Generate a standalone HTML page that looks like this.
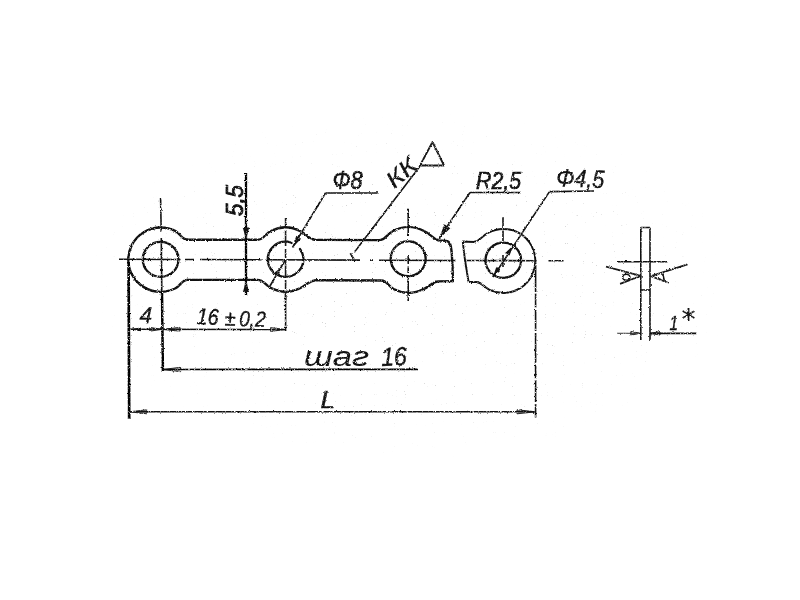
<!DOCTYPE html>
<html lang="ru">
<head>
<meta charset="utf-8">
<title>Чертёж</title>
<style>
html,body{margin:0;padding:0;background:#fff;}
body{width:800px;height:600px;overflow:hidden;}
svg{display:block;}
.o{fill:none;stroke:#111;stroke-width:2.35;stroke-linecap:round;stroke-linejoin:round;}
.t{fill:none;stroke:#111;stroke-width:1.6;}
.t2{fill:none;stroke:#1a1a1a;stroke-width:1.8;stroke-linejoin:round;}
.c{fill:none;stroke:#1a1a1a;stroke-width:1.6;}
.ar{fill:#111;stroke:none;}
.arh{fill:#111;fill-opacity:0.35;stroke:#111;stroke-width:0.9;stroke-linejoin:round;}
text{font-family:"Liberation Sans",sans-serif;font-style:italic;fill:#111;stroke:#111;stroke-width:0.4;}
</style>
</head>
<body>
<svg width="800" height="600" viewBox="0 0 800 600">
<defs>
<filter id="rough" x="0" y="0" width="800" height="600" filterUnits="userSpaceOnUse" color-interpolation-filters="sRGB">
<feTurbulence type="fractalNoise" baseFrequency="0.55" numOctaves="2" seed="7" result="n"/>
<feDisplacementMap in="SourceGraphic" in2="n" scale="2.4" xChannelSelector="R" yChannelSelector="G" result="d"/>
<feTurbulence type="fractalNoise" baseFrequency="0.8" numOctaves="3" seed="23" result="g"/>
<feColorMatrix in="g" type="matrix" values="0 0 0 0 0  0 0 0 0 0  0 0 0 0 0  0 0 4 0 -0.62" result="m"/>
<feComposite in="d" in2="m" operator="in"/>
</filter>
<filter id="roughT" x="0" y="0" width="800" height="600" filterUnits="userSpaceOnUse" color-interpolation-filters="sRGB">
<feTurbulence type="fractalNoise" baseFrequency="0.5" numOctaves="2" seed="11" result="n"/>
<feDisplacementMap in="SourceGraphic" in2="n" scale="2.2" xChannelSelector="R" yChannelSelector="G" result="d"/>
<feTurbulence type="fractalNoise" baseFrequency="0.8" numOctaves="3" seed="5" result="g"/>
<feColorMatrix in="g" type="matrix" values="0 0 0 0 0  0 0 0 0 0  0 0 0 0 0  0 0 4 0 -0.5" result="m"/>
<feComposite in="d" in2="m" operator="in"/>
</filter>
<filter id="speck" x="0" y="0" width="800" height="600" filterUnits="userSpaceOnUse" color-interpolation-filters="sRGB">
<feTurbulence type="fractalNoise" baseFrequency="0.9" numOctaves="2" seed="41" result="g"/>
<feColorMatrix in="g" type="matrix" values="0 0 0 0 0.35  0 0 0 0 0.35  0 0 0 0 0.35  0 14 0 0 -10.9"/>
<feComposite in2="SourceGraphic" operator="in"/>
</filter>
<radialGradient id="sg" cx="0.5" cy="0.5" r="0.5">
<stop offset="0.55" stop-color="#000" stop-opacity="1"/>
<stop offset="1" stop-color="#000" stop-opacity="0"/>
</radialGradient>
</defs>
<rect width="800" height="600" fill="#fff"/>
<g filter="url(#speck)" opacity="0.24"><ellipse cx="410" cy="285" rx="330" ry="175" fill="url(#sg)"/></g>
<g filter="url(#rough)">
<path class="o" d="M187.5,239.7 C182,239.7 181,234.5 175.5,231 A32.4,32.2 0 1 0 175.5,288.3 C181,285 182,279.8 187.5,279.8"/>
<path class="o" d="M187,239.7 L257.5,239.7 C264,239.7 265,233.5 271,231 A32,32 0 0 1 300.5,231.2 C306.5,234 309,239.8 317,239.9 L379,240.2 C385.5,240.2 387,234 393,231 A33,33 0 0 1 424,231 C430,233.5 432,238 438.3,240.4 L446,240.8 C450,241 450.8,245 451.4,250 C452.6,262 453,272 452.8,281.2"/>
<path class="o" d="M187,279.8 L257.5,279.8 C264,279.8 265,285 271,288 A32,32 0 0 0 300.5,288 C306.5,285 309,280.2 317,280.2 L381.5,280.5 C387,280.7 388,286 393.5,289 A33,33 0 0 0 424,288.8 C430,286.5 432,281.8 438.5,281.4 L452.8,281.2"/>
<path class="o" style="stroke-width:1.9" d="M468.6,282 C466.5,270 464,255 462.8,241.5 L473.5,242 C481,241 482,235.5 488.5,232.6 A32,32 0 1 1 489.5,289.8 C483.5,287 482,282.3 476,282 Z"/>
<ellipse class="o" cx="160.6" cy="259.4" rx="17.8" ry="17.5"/>
<ellipse class="o" cx="285.6" cy="259.3" rx="17.8" ry="17.6" stroke-dasharray="89 10.5 11.7 0"/>
<ellipse class="o" cx="408.2" cy="258.8" rx="17.5" ry="17.4"/>
<ellipse class="o" cx="503.3" cy="260.3" rx="17.8" ry="17.6"/>
<path class="t" d="M119,259.30 L180.5,259.51"/>
<path class="t" d="M185,259.52 L194,259.55"/>
<path class="t" d="M200,259.57 L261.5,259.78"/>
<path class="t" d="M267.5,259.80 L360,260.12"/>
<path class="t" d="M370,260.15 L373,260.16"/>
<path class="t" d="M379,260.18 L456,260.45"/>
<path class="t" d="M464.5,260.47 L536.5,260.72"/>
<path class="t" d="M548.5,260.76 L563.5,260.81"/>
<path class="t" stroke-width="1.6" d="M160.6,198 L161.2,232 M161.3,238 L161.8,292"/>
<path class="t" style="stroke-width:2.5;stroke:#000" d="M162,292 L162.9,371"/>
<path class="c" d="M285.6,218 L285.6,300" stroke-dasharray="9 3 16 3"/>
<path class="t" d="M285.6,294 L285.6,331"/>
<path class="t" d="M408.2,208.5 L408.2,236 M408.2,255 L408.2,264 M408.2,266.5 L408.2,273 M408.2,278 L408.2,301"/>
<path class="t" d="M503,217 L503,227 M503,230.5 L503,241 M503,255 L503,267"/>
<path class="t" style="stroke-width:2.7;stroke:#000" d="M128.6,262 L129.2,419"/>
<path class="t" style="stroke-width:1.6" stroke-dasharray="30 1.5 14 1.5 22 2" d="M535.6,262 L535.6,417.5"/>
<path class="t" style="stroke-width:1.6" d="M129,329.3 L285.6,329.5"/>
<path class="t" style="stroke-width:1.7;stroke:#000" d="M162.3,369.5 L418,369.3"/>
<path class="t" style="stroke-width:1.4" d="M129,411.8 L536,411.8"/>
<polygon points="129.0,329.3 141.0,327.4 141.0,331.2" class="ar"/>
<polygon points="161.8,329.3 149.8,331.2 149.8,327.4" class="arh"/>
<polygon points="162.0,329.3 180.0,327.4 180.0,331.2" class="arh"/>
<polygon points="285.6,329.5 270.6,331.4 270.6,327.6" class="arh"/>
<polygon points="162.6,369.5 180.6,367.3 180.6,371.7" class="arh"/>
<polygon points="129.0,411.8 147.0,409.8 147.0,413.8" class="arh"/>
<polygon points="536.0,411.8 517.0,413.8 517.0,409.8" class="arh"/>
<path class="t" style="stroke-width:2.3;stroke:#000" d="M246,173 L246,295"/>
<polygon points="246.0,239.5 242.8,227.5 249.2,227.5" class="ar"/>
<polygon points="246.0,280.0 249.0,292.0 243.0,292.0" class="ar"/>
<path class="t" d="M325.5,193 L378.5,193"/>
<path class="t" d="M325.5,193 L292.5,247.5"/>
<path class="t" d="M285.6,259.5 L270,286"/>
<polygon points="292.5,247.5 296.3,235.8 301.1,238.7" class="ar"/>
<polygon points="280.5,268.0 279.1,275.3 274.6,272.6" class="ar"/>
<path class="t" d="M420.5,165.5 L354.3,252.2"/>
<path class="t2" d="M350.3,253.3 L353.9,258.9"/>
<path class="t2" d="M420,165.5 L432.5,142 L444,165.5 Z"/>
<path class="t" d="M470,192.5 L521,192.5"/>
<path class="t" d="M470,192.5 L439,238.5"/>
<polygon points="438.5,239.5 444.5,224.3 450.3,228.2" class="ar"/>
<path class="t" d="M549.5,191.6 L594,191"/>
<path class="t" d="M549.5,191.6 L493,277"/>
<polygon points="513.0,245.8 509.6,255.6 505.3,252.7" class="ar"/>
<polygon points="493.0,276.5 496.4,266.7 500.7,269.6" class="ar"/>
<path class="t" d="M640.8,227.5 L640.8,340 M650,227.5 L650,340 M640.8,227.5 L650,227.5"/>
<path class="t" d="M617,261.7 L667.5,261.7"/>
<path class="t2" d="M606,266.7 L640.8,275.8 L620,283.8"/>
<ellipse class="t" cx="626.3" cy="277.3" rx="3.6" ry="3"/>
<path class="t2" d="M687.5,264.3 L651,276.2 L668.7,283"/>
<path class="t" d="M662.5,272.8 L664.3,280.8"/>
<path class="t" style="stroke-width:1.1;stroke:#444" d="M617,333.3 L640.8,333.3"/><path class="t" style="stroke-width:1.8" d="M650,333.3 L696.5,333.3"/>
<path class="t" d="M640.8,290 L650,290"/>
<polygon points="640.8,333.3 630.8,335.1 630.8,331.5" class="arh"/>
<polygon points="650.0,333.3 660.0,331.6 660.0,335.0" class="arh"/>
</g>
<g filter="url(#roughT)">
<text x="0" y="0" font-size="23" transform="translate(139.5,323) rotate(1)" textLength="12.5" lengthAdjust="spacingAndGlyphs">4</text>
<text x="0" y="0" font-size="22.5" transform="translate(196.5,324) rotate(2)" textLength="22" lengthAdjust="spacingAndGlyphs">16</text>
<text x="0" y="0" font-size="22" transform="translate(224.5,325.5) rotate(2)" textLength="11" lengthAdjust="spacingAndGlyphs">±</text>
<text x="0" y="0" font-size="22" transform="translate(239,326) rotate(2)" textLength="26.5" lengthAdjust="spacingAndGlyphs">0,2</text>
<text x="304" y="366.3" font-size="27" textLength="65" lengthAdjust="spacingAndGlyphs" style="stroke-width:0.1">шаг</text>
<text x="0" y="0" font-size="26" transform="translate(381.5,366) rotate(-2)" textLength="25.5" lengthAdjust="spacingAndGlyphs">16</text>
<text x="320.5" y="408" font-size="23" textLength="15" lengthAdjust="spacingAndGlyphs">L</text>
<text x="0" y="0" font-size="23" transform="translate(242.5,216) rotate(-90)" textLength="31" lengthAdjust="spacingAndGlyphs" style="stroke-width:0.85">5,5</text>
<text x="332.5" y="189" font-size="25" textLength="30" lengthAdjust="spacingAndGlyphs" style="stroke-width:0.6">Φ8</text>
<text x="476" y="188.7" font-size="23" textLength="45" lengthAdjust="spacingAndGlyphs" style="stroke-width:0.6">R2,5</text>
<text x="0" y="0" font-size="25" transform="translate(556,186) rotate(2.5)" textLength="48" lengthAdjust="spacingAndGlyphs">Φ4,5</text>
<text x="0" y="0" font-size="23.5" transform="translate(394.5,189.5) rotate(-42)" textLength="33" lengthAdjust="spacingAndGlyphs" style="stroke-width:0.2">КК</text>
<text x="669.5" y="329.5" font-size="20" textLength="8.5" lengthAdjust="spacingAndGlyphs">1</text>
<text x="681.5" y="328.8" font-size="28" style="font-family:'DejaVu Sans',sans-serif;font-style:normal;stroke-width:0.2">*</text>
</g>
</svg>
</body>
</html>
